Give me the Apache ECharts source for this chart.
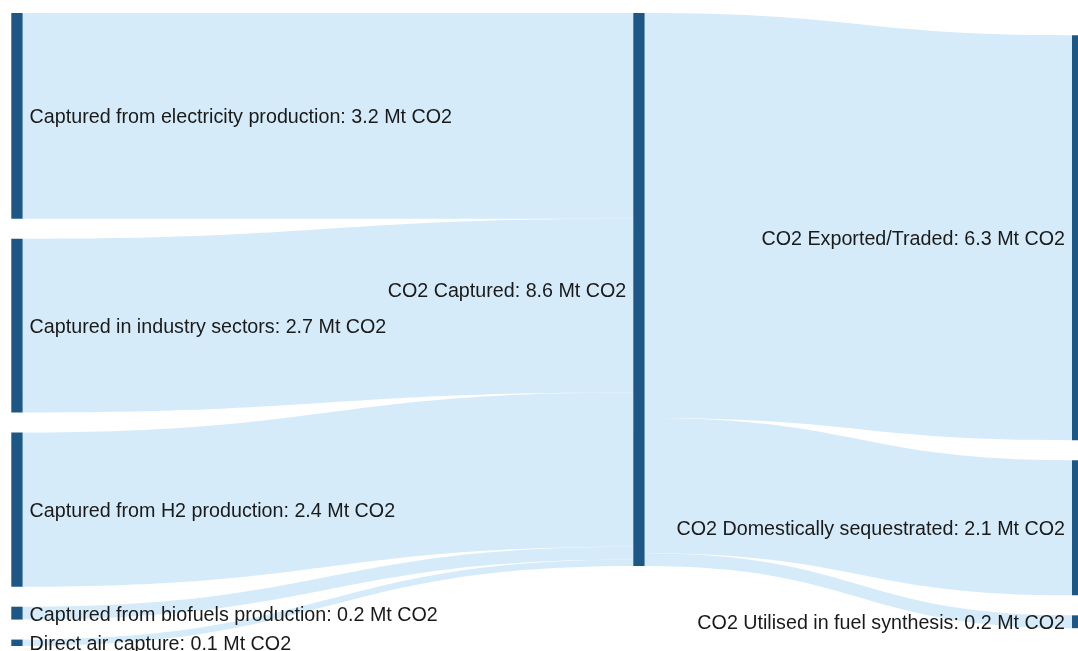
<!DOCTYPE html>
<html>
<head>
<meta charset="utf-8">
<style>
  html, body { margin: 0; padding: 0; background: #fff; }
  #chart { width: 1078px; height: 651px; }
</style>
<script src="https://cdn.jsdelivr.net/npm/echarts@6/dist/echarts.min.js"></script>
</head>
<body>
<div id="chart"></div>
<script>
// sources of captured CO2 (Mt)
const sourceNames = [
  "Captured from electricity production",
  "Captured in industry sectors",
  "Captured from H2 production",
  "Captured from biofuels production",
  "Direct air capture"
];
const sourceValues = [3.2, 2.7, 2.4, 0.2, 0.1];

const hubName = "CO2 Captured";

// destinations (Mt)
const sinkNames = [
  "CO2 Exported/Traded",
  "CO2 Domestically sequestrated",
  "CO2 Utilised in fuel synthesis"
];
const sinkValues = [6.3, 2.1, 0.2];

const unit = " Mt CO2";

const nodeColor = "#1c5785";
const linkColor = "#d5ebf9";

// invisible node that pushes the right column down a little, like the original
const SPACER = "__spacer";
const spacerSize = 0.034;

const chart = echarts.init(document.getElementById("chart"));

const hubValue = sourceValues.reduce((a, b) => a + b, 0);
const valueOf = {};
sourceNames.forEach((n, i) => (valueOf[n] = sourceValues[i]));
sinkNames.forEach((n, i) => (valueOf[n] = sinkValues[i]));
valueOf[hubName] = hubValue;

const nodes = [];
sourceNames.forEach((n) => {
  nodes.push({ name: n, depth: 0, label: { position: "right" } });
});
// middle column sits off-centre in the original, so use a fractional depth
nodes.push({ name: hubName, depth: 1.1728, label: { position: "left" } });
nodes.push({
  name: SPACER,
  depth: 2,
  value: spacerSize,
  itemStyle: { opacity: 0 },
  label: { show: false },
  tooltip: { show: false },
});
sinkNames.forEach((n) => {
  nodes.push({ name: n, depth: 2, label: { position: "left" } });
});

const links = [];
sourceNames.forEach((n, i) => {
  links.push({ source: n, target: hubName, value: sourceValues[i] });
});
sinkNames.forEach((n, i) => {
  links.push({ source: hubName, target: n, value: sinkValues[i] });
});

chart.setOption({
  animation: false,
  series: [
    {
      type: "sankey",
      left: 11.3,
      top: 13,
      right: -5.3,
      bottom: 5,
      nodeWidth: 11.3,
      nodeGap: 20,
      nodeAlign: "left",
      layoutIterations: 0,
      draggable: false,
      emphasis: { disabled: true },
      data: nodes,
      links: links,
      itemStyle: {
        color: nodeColor,
        borderWidth: 0,
      },
      lineStyle: {
        color: linkColor,
        opacity: 1,
        curveness: 0.5,
      },
      label: {
        show: true,
        distance: 7,
        offset: [0, 2],
        color: "#1a1a1a",
        fontFamily: "Liberation Sans, Arial, sans-serif",
        fontSize: 19.7,
        formatter: (p) => p.name + ": " + valueOf[p.name].toFixed(1) + unit,
      },
    },
  ],
});
</script>
</body>
</html>
